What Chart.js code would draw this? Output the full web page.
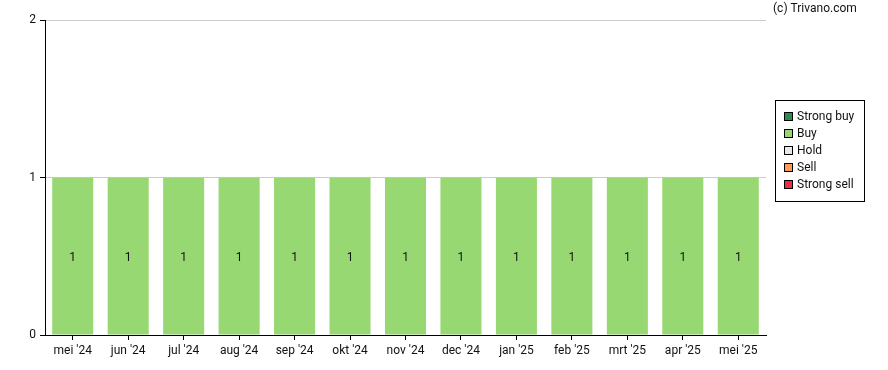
<!DOCTYPE html>
<html><head><meta charset="utf-8">
<script src="https://cdn.jsdelivr.net/npm/chart.js@4"></script>
<style>html,body{margin:0;padding:0;background:#fff}#wrap{width:888px;height:370px;position:relative}</style>
</head><body><div id="wrap"><canvas id="c" width="888" height="370"></canvas></div>
<script>
const months = ["mei '24","jun '24","jul '24","aug '24","sep '24","okt '24","nov '24","dec '24","jan '25","feb '25","mrt '25","apr '25","mei '25"];
const strongBuy = [0,0,0,0,0,0,0,0,0,0,0,0,0];
const buy = [1,1,1,1,1,1,1,1,1,1,1,1,1];
const hold = [0,0,0,0,0,0,0,0,0,0,0,0,0];
const sell = [0,0,0,0,0,0,0,0,0,0,0,0,0];
const strongSell = [0,0,0,0,0,0,0,0,0,0,0,0,0];
const yTicks = [0,1,2];
const FONT = "Roboto, 'Liberation Sans', sans-serif";

const series = [
  {label:'Strong buy', data:strongBuy, color:'#2e8b4e'},
  {label:'Buy', data:buy, color:'#97d872'},
  {label:'Hold', data:hold, color:'#e8e8e8'},
  {label:'Sell', data:sell, color:'#ff9a55'},
  {label:'Strong sell', data:strongSell, color:'#e8303f'}
];

const extras = {
  id:'extras',
  afterDatasetsDraw(chart){
    const ctx = chart.ctx;
    ctx.save();
    ctx.font = '12px ' + FONT;
    ctx.fillStyle = '#111';
    ctx.textAlign = 'center';
    ctx.textBaseline = 'middle';
    chart.data.datasets.forEach((ds,i)=>{
      const meta = chart.getDatasetMeta(i);
      meta.data.forEach((bar,j)=>{
        const v = ds.data[j];
        if(!v) return;
        ctx.fillText(String(v), bar.x, (bar.y + bar.base)/2 + 2);
      });
    });
    ctx.textAlign = 'left';
    ctx.fillText('(c) Trivano.com', 773, 9);
    const lx = 775, ly = 100, lw = 89, lh = 101;
    ctx.fillStyle = '#fff';
    ctx.fillRect(lx, ly, lw, lh);
    ctx.strokeStyle = '#000';
    ctx.lineWidth = 1;
    ctx.strokeRect(lx+0.5, ly+0.5, lw, lh);
    series.forEach((s,i)=>{
      const y = ly + 17 + i*17;
      ctx.fillStyle = s.color;
      ctx.fillRect(lx+9.5, y-4.5, 8, 8);
      ctx.strokeStyle = '#000';
      ctx.strokeRect(lx+9.5, y-4.5, 8, 8);
      ctx.fillStyle = '#111';
      ctx.fillText(s.label, lx+22, y);
    });
    ctx.restore();
  }
};

new Chart(document.getElementById('c'), {
  type:'bar',
  data:{
    labels: months,
    datasets: series.map(s=>({label:s.label, data:s.data, backgroundColor:s.color, borderWidth:0, categoryPercentage:1, barPercentage:0.74}))
  },
  options:{
    responsive:false, animation:false,
    layout:{padding:{left:0,right:122,top:20,bottom:0}},
    plugins:{legend:{display:false}, tooltip:{enabled:false}},
    scales:{
      x:{stacked:true,
        afterFit(ax){ax.height = 35;},
        grid:{display:true, drawOnChartArea:false, offset:false, tickLength:5, tickColor:'#000'},
        border:{color:'#000', width:1},
        ticks:{color:'#111', font:{family:FONT, size:12}, padding:4, maxRotation:0, autoSkip:false}
      },
      y:{stacked:true, min:0, max:2, afterBuildTicks(ax){ax.ticks = yTicks.map(v=>({value:v}));},
        afterFit(ax){ax.width = 45;},
        grid:{color:'#cccccc', tickColor:'#000', tickLength:5},
        border:{color:'#000', width:1},
        ticks:{color:'#111', font:{family:FONT, size:12}, padding:4}
      }
    }
  },
  plugins:[extras]
});
</script>
</body></html>
